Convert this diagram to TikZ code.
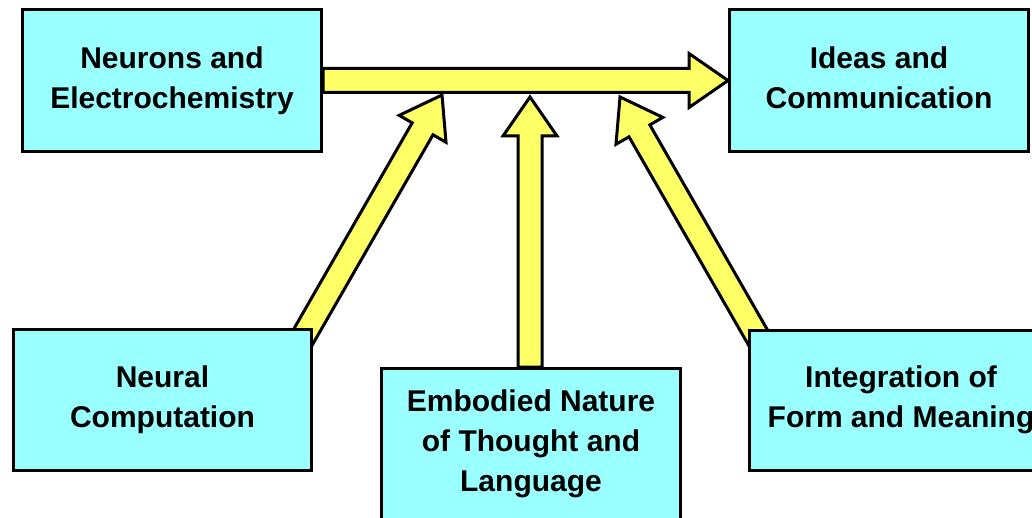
\documentclass[tikz,border=0pt]{standalone}
\usepackage{fontspec}
\setmainfont{Liberation Sans}
\usetikzlibrary{calc}
\definecolor{boxcyan}{RGB}{153,255,255}
\definecolor{arrowyellow}{RGB}{255,255,102}
\pgfdeclarelayer{paper}
\pgfdeclarelayer{bg}
\pgfsetlayers{paper,bg,main}

% block arrow from #1 to the tip #2
\newcommand\fatarrow[2]{%
  \coordinate (hb) at ($(#2)!39pt!(#1)$);
  \draw[fatarrowstyle]
    ($(#1)!12pt!90:(#2)$) -- ($(hb)!12pt!90:(#2)$) -- ($(hb)!27pt!90:(#2)$)
    -- (#2)
    -- ($(hb)!27pt!-90:(#2)$) -- ($(hb)!12pt!-90:(#2)$) -- ($(#1)!12pt!-90:(#2)$)
    -- cycle;}

\tikzset{
  conceptbox/.style={draw=black, fill=boxcyan, line width=3pt, rectangle,
    align=center, inner sep=0pt,
    font=\fontsize{30}{40}\selectfont\bfseries},
  fatarrowstyle/.style={draw=black, fill=arrowyellow, line width=3pt, line join=miter}
}

\begin{document}
\begin{tikzpicture}[x=1pt, y=-1pt]
  \useasboundingbox (0,0) rectangle (1032,518);
  \begin{pgfonlayer}{paper}
    \fill[white] (0,0) rectangle (1032,518);
  \end{pgfonlayer}

  \node[conceptbox, minimum width=299pt, minimum height=142pt] (n1) at (172,80.5)
    {Neurons and\\Electrochemistry};
  \node[conceptbox, minimum width=299pt, minimum height=142pt] (n2) at (879,80.5)
    {Ideas and\\Communication\vphantom{y}};
  \node[conceptbox, minimum width=298pt, minimum height=141pt] (n3) at (162.5,400)
    {Neural\\Computation};
  \node[conceptbox, minimum width=299pt, minimum height=151pt] (n4) at (531,444)
    {Embodied Nature\\of Thought and\\Language};
  \node[conceptbox, minimum width=303pt, minimum height=140pt] (n5) at (901,400)
    {Integration of\\Form and Meaning};

  % tips of the three feeding arrows, on the underside of the main arrow
  \coordinate (t3) at (442,95);
  \coordinate (t4) at (530,97);
  \coordinate (t5) at (620,97);
  % tails hidden behind the lower boxes
  \coordinate (s3) at ($(n3.north east)+(-14,16)$);
  \coordinate (s5) at ($(n5.north west)+(14,16)$);
  \coordinate (s4) at (n4.north -| t4);

  \begin{pgfonlayer}{bg}
    \fatarrow{s3}{t3}
    \fatarrow{s4}{t4}
    \fatarrow{s5}{t5}
    \fatarrow{n1.east}{n2.west}
  \end{pgfonlayer}
\end{tikzpicture}
\end{document}
